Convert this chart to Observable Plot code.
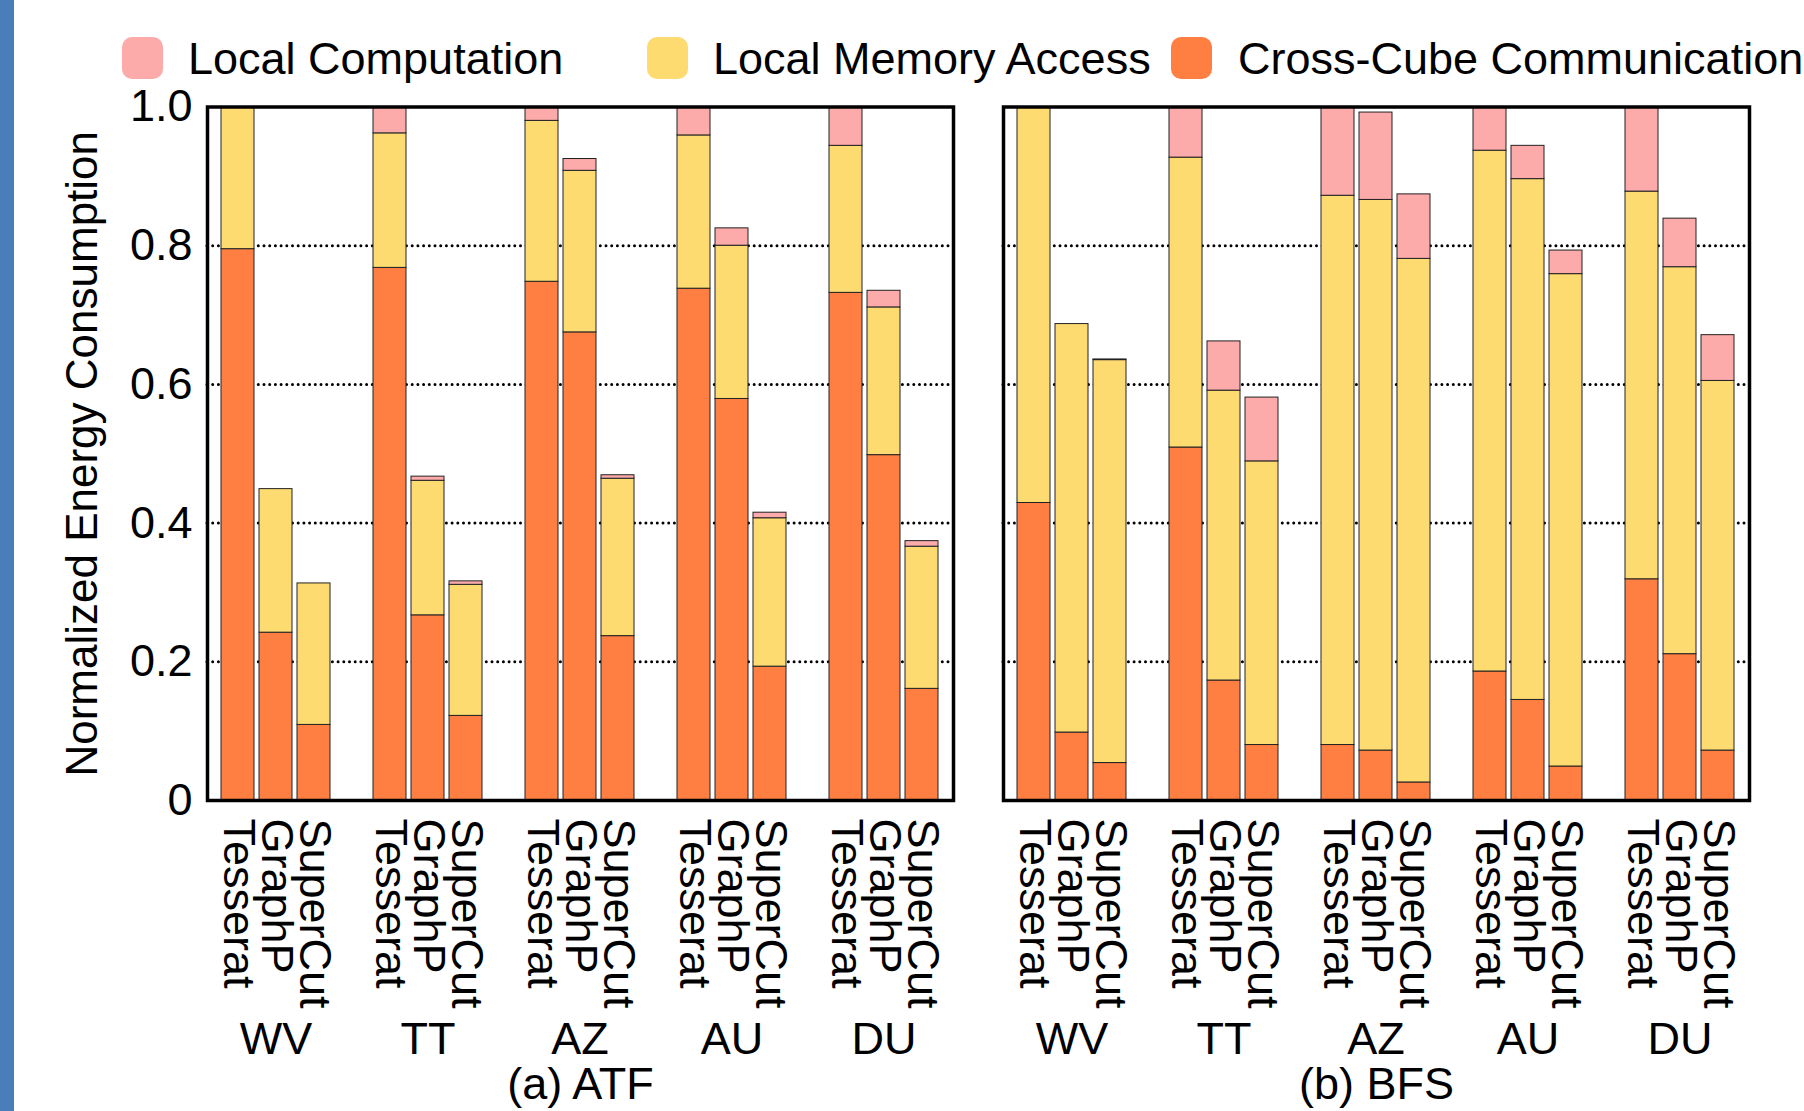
<!DOCTYPE html>
<html>
<head>
<meta charset="utf-8">
<script src="https://cdn.jsdelivr.net/npm/d3@7"></script>
<script src="https://cdn.jsdelivr.net/npm/@observablehq/plot@0.6"></script>
<style>
  html, body { margin: 0; padding: 0; background: #fff; }
  body { width: 1804px; height: 1111px; position: relative; overflow: hidden; font-family: "Liberation Sans", Arial, sans-serif; }
  #strip { position: absolute; left: 0; top: 0; width: 14px; height: 1111px; background: #4a7ebb; z-index: 2; }
  #legend { position: relative; height: 80px; }
  .sw { position: absolute; top: 37px; width: 41px; height: 42px; border-radius: 10px; }
  .lt { position: absolute; top: 58px; transform: translateY(-50%); font-size: 45px; line-height: 1; color: #000; white-space: nowrap; }
</style>
</head>
<body>
<div id="strip"></div>
<div id="legend"></div>
<div id="chart"></div>
<script>
// ---- data ----
const panels = ["ATF", "BFS"];
const panelLabels = ["(a) ATF", "(b) BFS"];
const groups = ["WV", "TT", "AZ", "AU", "DU"];
const systems = ["Tesserat", "GraphP", "SuperCut"];
const components = ["Local Computation", "Local Memory Access", "Cross-Cube Communication"];
const colors = ["#fcaaaa", "#fddb71", "#ff7f42"];
const yTicks = [0, 0.2, 0.4, 0.6, 0.8, 1.0];

// order per panel: WV(T,G,S), TT(T,G,S), AZ(...), AU(...), DU(...)
const atfComm = [0.795, 0.242, 0.109, 0.768, 0.267, 0.122, 0.748, 0.675, 0.237, 0.738, 0.579, 0.193, 0.732, 0.498, 0.161];
const atfMem  = [0.205, 0.207, 0.204, 0.194, 0.194, 0.189, 0.232, 0.233, 0.227, 0.221, 0.221, 0.214, 0.212, 0.213, 0.205];
const atfComp = [0.000, 0.000, 0.000, 0.038, 0.006, 0.005, 0.020, 0.017, 0.005, 0.041, 0.025, 0.008, 0.056, 0.024, 0.008];

const bfsComm = [0.429, 0.098, 0.054, 0.509, 0.173, 0.080, 0.080, 0.072, 0.026, 0.186, 0.145, 0.049, 0.319, 0.211, 0.072];
const bfsMem  = [0.571, 0.589, 0.581, 0.418, 0.418, 0.409, 0.792, 0.794, 0.755, 0.751, 0.751, 0.710, 0.559, 0.558, 0.533];
const bfsComp = [0.000, 0.000, 0.001, 0.073, 0.071, 0.092, 0.128, 0.126, 0.093, 0.063, 0.048, 0.034, 0.122, 0.070, 0.066];

// ---- build table ----
const series = {
  ATF: {"Cross-Cube Communication": atfComm, "Local Memory Access": atfMem, "Local Computation": atfComp},
  BFS: {"Cross-Cube Communication": bfsComm, "Local Memory Access": bfsMem, "Local Computation": bfsComp}
};
const keys = [];
groups.forEach((g, i) => {
  systems.forEach(s => keys.push(g + "|" + s));
  if (i < groups.length - 1) keys.push("_gap" + i);
});
const rows = [];
for (const p of panels) {
  for (let i = 0; i < groups.length * systems.length; i++) {
    const key = groups[Math.floor(i / 3)] + "|" + systems[i % 3];
    for (const c of ["Cross-Cube Communication", "Local Memory Access", "Local Computation"]) {
      rows.push({panel: p, key, component: c, value: series[p][c][i]});
    }
  }
}

// ---- legend ----
const legend = document.getElementById("legend");
const legendPos = [[122, 188], [647, 713], [1171, 1238]];
components.forEach((c, i) => {
  const sw = document.createElement("div");
  sw.className = "sw"; sw.style.left = legendPos[i][0] + "px"; sw.style.background = colors[i];
  const t = document.createElement("div");
  t.className = "lt"; t.style.left = legendPos[i][1] + "px"; t.textContent = c;
  legend.appendChild(sw); legend.appendChild(t);
});

// ---- chart ----
const font = "Liberation Sans, Arial, sans-serif";
const chart = Plot.plot({
  width: 1804,
  height: 1031,
  marginTop: 26.5,
  marginBottom: 311,
  marginLeft: 207,
  marginRight: 54,
  style: {fontFamily: font, background: "white", overflow: "visible"},
  fx: {domain: panels, paddingInner: 0.0624, paddingOuter: 0},
  x: {domain: keys, paddingInner: 0.128, paddingOuter: 0.311},
  y: {domain: [0, 1]},
  color: {domain: components, range: colors},
  marks: [
    Plot.ruleY([0.2, 0.4, 0.6, 0.8], {stroke: "black", strokeWidth: 3, strokeDasharray: "0,5.7", strokeLinecap: "round"}),
    Plot.barY(rows, {fx: "panel", x: "key", y: "value", fill: "component", stroke: "#222", strokeWidth: 1}),
    Plot.frame({stroke: "black", strokeWidth: 3.5}),
    Plot.axisY({ticks: yTicks, tickSize: 0, tickPadding: 15, fontSize: 45, label: null,
      tickFormat: d => d === 0 ? "0" : d.toFixed(1)}),
    Plot.axisX({tickSize: 0, tickPadding: 18, tickRotate: 90, fontSize: 45, label: null,
      tickFormat: k => k.startsWith("_") ? "" : k.split("|")[1]}),
    Plot.axisFx({anchor: "bottom", tickSize: 0, tickPadding: 267, fontSize: 45, label: null,
      tickFormat: p => panelLabels[panels.indexOf(p)]}),
    Plot.text(groups, {x: g => g + "|GraphP", frameAnchor: "bottom", dy: 253, fontSize: 45, fill: "black"}),
    Plot.text(["Normalized Energy Consumption"], {fx: () => "ATF", y: () => 0.5, frameAnchor: "left", textAnchor: "middle", rotate: -90, dx: -125, fontSize: 44, fill: "black"})
  ]
});
document.getElementById("chart").appendChild(chart);
</script>
</body>
</html>
